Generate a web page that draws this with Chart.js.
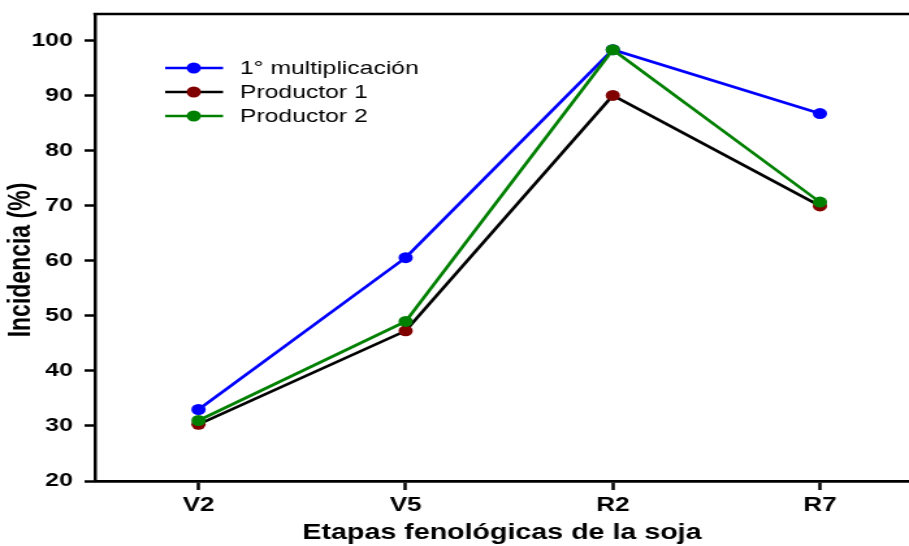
<!DOCTYPE html>
<html>
<head>
<meta charset="utf-8">
<script src="https://cdn.jsdelivr.net/npm/chart.js@4/dist/chart.umd.min.js"></script>
<style>
  html, body { margin: 0; padding: 0; background: #fff; overflow: hidden; }
  /* the original figure is stretched sideways, so the canvas is drawn narrow and widened by css */
  #chart { width: 909px !important; height: 546px !important; display: block; }
</style>
</head>
<body>
<canvas id="chart" width="699" height="546" style="width:909px;height:546px"></canvas>
<script>
// data
const etapas = ['V2', 'V5', 'R2', 'R7'];
const multiplicacion = [33.0, 60.6, 98.4, 86.8];
const productor1 = [30.3, 47.3, 90.1, 70.0];
const productor2 = [31.0, 49.0, 98.4, 70.7];
const yTicks = [20, 30, 40, 50, 60, 70, 80, 90, 100];

const font = 'Liberation Sans, Arial, sans-serif';

function pts(vals) {
  return vals.map((v, i) => ({ x: i, y: v }));
}

// legend drawn by hand: line with dot in the middle, then label
const legendPlugin = {
  id: 'legendBox',
  afterDraw(chart) {
    const ctx = chart.ctx;
    const items = chart.data.datasets.slice().sort((a, b) => b.order - a.order);
    ctx.save();
    items.forEach((ds, i) => {
      const y = 68 + i * 24;
      ctx.strokeStyle = ds.borderColor;
      ctx.lineWidth = 2.7;
      ctx.beginPath();
      ctx.moveTo(127, y);
      ctx.lineTo(171.5, y);
      ctx.stroke();
      ctx.fillStyle = ds.pointBackgroundColor;
      ctx.beginPath();
      ctx.arc(149, y, 5.5, 0, Math.PI * 2);
      ctx.fill();
      ctx.fillStyle = '#000';
      ctx.font = '19px ' + font;
      ctx.textBaseline = 'middle';
      ctx.fillText(ds.label, 184.5, y + 1);
    });
    // top frame line
    const a = chart.chartArea;
    ctx.strokeStyle = '#000';
    ctx.lineWidth = 2.7;
    ctx.beginPath();
    ctx.moveTo(a.left - 1.2, a.top);
    ctx.lineTo(a.right, a.top);
    ctx.stroke();
    // y title, a bit below the middle as in the figure
    ctx.translate(17, 260);
    ctx.rotate(-Math.PI / 2);
    ctx.fillStyle = '#000';
    ctx.font = 'bold 23px ' + font;
    ctx.textAlign = 'center';
    ctx.textBaseline = 'middle';
    ctx.fillText('Incidencia (%)', 0, 0);
    ctx.restore();
  }
};

function series(label, vals, line, dot, order) {
  return {
    label: label,
    data: pts(vals),
    borderColor: line,
    backgroundColor: dot,
    pointBackgroundColor: dot,
    pointBorderColor: dot,
    pointRadius: 5.5,
    pointBorderWidth: 0,
    borderWidth: 2.7,
    tension: 0,
    order: order
  };
}

new Chart(document.getElementById('chart'), {
  type: 'line',
  data: {
    datasets: [
      series('1° multiplicación', multiplicacion, '#0000ff', '#0000ff', 2),
      series('Productor 1', productor1, '#000000', '#800000', 1),
      series('Productor 2', productor2, '#008000', '#008000', 0)
    ]
  },
  options: {
    responsive: false,
    animation: false,
    devicePixelRatio: 1,
    layout: { autoPadding: false, padding: { top: 14, right: 0, left: 0, bottom: 0 } },
    plugins: { legend: { display: false }, tooltip: { enabled: false } },
    scales: {
      x: {
        type: 'linear',
        min: -0.5,
        max: 3.43,
        afterBuildTicks(s) { s.ticks = etapas.map((e, i) => ({ value: i })); },
        afterFit(s) { s.height = 65; s.paddingLeft = 0; s.paddingRight = 0; },
        ticks: {
          callback: (v) => etapas[v],
          color: '#000',
          font: { family: font, size: 20, weight: 'bold' },
          padding: 3
        },
        grid: { drawOnChartArea: false, tickLength: 9, tickWidth: 2.5, tickColor: '#000' },
        border: { color: '#000', width: 2.7 },
        title: {
          display: true,
          text: 'Etapas fenológicas de la soja',
          color: '#000',
          font: { family: font, size: 22, weight: 'bold' },
          padding: { top: 0, bottom: 0 }
        }
      },
      y: {
        min: 20,
        max: 104.9,
        afterBuildTicks(s) { s.ticks = yTicks.map(v => ({ value: v })); },
        afterFit(s) { s.width = 73; s.paddingTop = 0; s.paddingBottom = 0; },
        ticks: {
          color: '#000',
          font: { family: font, size: 19, weight: 'bold' },
          padding: 9
        },
        grid: { drawOnChartArea: false, tickLength: 8, tickWidth: 2.5, tickColor: '#000' },
        border: { color: '#000', width: 2.5 }
      }
    }
  },
  plugins: [legendPlugin]
});
</script>
</body>
</html>
